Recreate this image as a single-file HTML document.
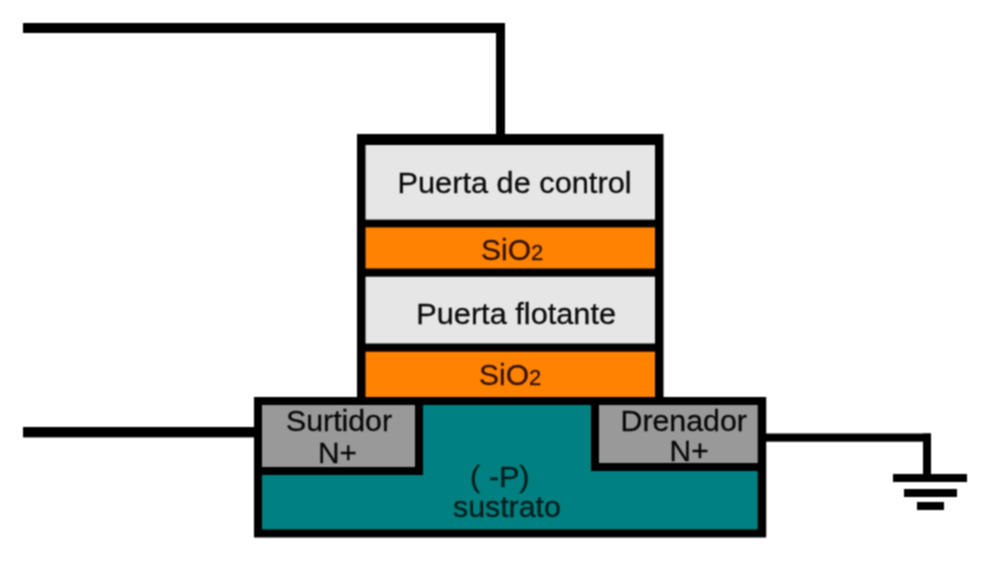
<!DOCTYPE html>
<html>
<head>
<meta charset="utf-8">
<style>
html,body{margin:0;padding:0;background:#fff;width:1000px;height:563px;overflow:hidden;}
svg{position:absolute;left:0;top:0;}
text{font-family:"Liberation Sans",sans-serif;}
</style>
</head>
<body>
<svg width="1000" height="563" viewBox="0 0 1000 563" xmlns="http://www.w3.org/2000/svg">
  <defs><filter id="soft" x="0" y="0" width="1000" height="563" filterUnits="userSpaceOnUse" color-interpolation-filters="sRGB"><feConvolveMatrix order="3" kernelMatrix="1 2 1 2 4 2 1 2 1" divisor="16" edgeMode="duplicate"/></filter></defs>
  <g filter="url(#soft)">
  <rect id="bg" x="0" y="0" width="1000" height="563" fill="#fff"/>
  <!-- top wire -->
  <rect x="23" y="23" width="482" height="10" fill="#000"/>
  <rect x="496" y="23" width="9" height="112" fill="#000"/>
  <!-- gate stack outer -->
  <rect x="357" y="134" width="306.5" height="271" fill="#000"/>
  <rect x="365.5" y="145" width="289.5" height="74.6" fill="#e6e6e6"/>
  <rect x="365.5" y="227.4" width="289.5" height="41.1" fill="#ff8200"/>
  <rect x="365.5" y="276.7" width="289.5" height="66.8" fill="#e6e6e6"/>
  <rect x="365.5" y="351.7" width="289.5" height="45.3" fill="#ff8200"/>
  <!-- substrate -->
  <rect x="254" y="397" width="512.2" height="140.5" fill="#000"/>
  <rect x="262" y="405" width="495.7" height="124.4" fill="#008080"/>
  <!-- source -->
  <rect x="262" y="405" width="161" height="70" fill="#000"/>
  <rect x="262" y="405" width="153" height="62" fill="#999"/>
  <!-- drain -->
  <rect x="591" y="405" width="167" height="66" fill="#000"/>
  <rect x="599" y="405" width="158.7" height="58" fill="#999"/>
  <!-- left wire -->
  <rect x="23" y="427" width="232" height="10.4" fill="#000"/>
  <!-- right wire + ground -->
  <rect x="765" y="433.5" width="166" height="8.2" fill="#000"/>
  <rect x="923" y="433.5" width="8" height="41" fill="#000"/>
  <rect x="893" y="474" width="74" height="8" fill="#000"/>
  <rect x="904" y="489" width="53" height="8" fill="#000"/>
  <rect x="917" y="502" width="27" height="8" fill="#000"/>

  <!-- labels -->
  <g stroke-width="0.3">
  <text id="t1" transform="translate(397.5,193.4) scale(1.06,1)" font-size="29" fill="#0c0c0c" stroke="#0c0c0c">Puerta de control</text>
  <text id="t2" transform="translate(416.2,323.8) scale(1.06,1)" font-size="29" fill="#0c0c0c" stroke="#0c0c0c">Puerta flotante</text>
  <text id="t3" transform="translate(481,259.5)" font-size="30" fill="#321200" stroke="#321200">SiO<tspan font-size="22">2</tspan></text>
  <text id="t4" transform="translate(479,385.3)" font-size="30" fill="#321200" stroke="#321200">SiO<tspan font-size="22">2</tspan></text>
  <text id="t5" transform="translate(286,430.6) scale(1.045,1)" font-size="29" fill="#080808" stroke="#080808">Surtidor</text>
  <text id="t6" transform="translate(318,462.8) scale(1.03,1)" font-size="29" fill="#080808" stroke="#080808">N+</text>
  <text id="t7" transform="translate(620.5,430.75) scale(1.046,1)" font-size="29" fill="#080808" stroke="#080808">Drenador</text>
  <text id="t8" transform="translate(669.6,460.75) scale(1.03,1)" font-size="29" fill="#080808" stroke="#080808">N+</text>
  <text id="t9" transform="translate(470,486.5) scale(1.057,1)" font-size="29" fill="#031d1d" stroke="#031d1d">( -P)</text>
  <text id="t10" transform="translate(453,516.6) scale(1.046,1)" font-size="29" fill="#031d1d" stroke="#031d1d">sustrato</text>
  </g>
  </g>
</svg>
</body>
</html>
